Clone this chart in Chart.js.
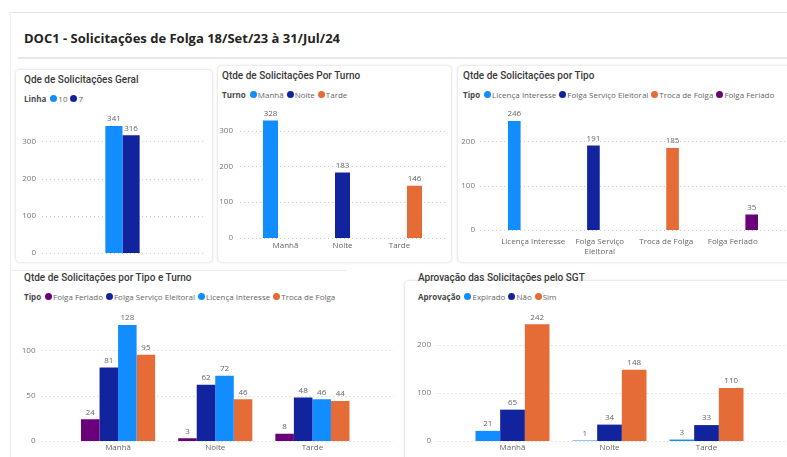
<!DOCTYPE html>
<html>
<head>
<meta charset="utf-8">
<script src="https://cdn.jsdelivr.net/npm/chart.js@4.4.1/dist/chart.umd.min.js"></script>
<style>
  body { margin: 0; width: 787px; height: 457px; background: #fff; position: relative; overflow: hidden; font-family: 'Open Sans', sans-serif; }
  .frame { position: absolute; left: 10px; top: 12px; width: 790px; height: 460px; border-top: 1px solid #e2e2e2; border-left: 1px solid #efefef; }
  .header-line { position: absolute; left: 18px; top: 57px; width: 780px; height: 2px; background: #e8e8e8; }
  .doc-title { position: absolute; left: 24px; top: 29px; font-size: 13px; font-weight: 700; color: #252423; white-space: nowrap; }
  .card { position: absolute; background: #fff; border-radius: 4px; box-shadow: 0 0 3px rgba(0,0,0,0.22); }
  .card-title { position: absolute; font-family: 'Roboto', sans-serif; font-weight: 500; font-size: 10px; color: #3a3a3a; white-space: nowrap; }
  .legend { position: absolute; display: flex; align-items: center; font-size: 8px; color: #666; white-space: nowrap; }
  .legend b { color: #4a4a4a; margin-right: 4px; }
  .legend .dot { width: 7px; height: 7px; border-radius: 50%; display: inline-block; margin-right: 1px; }
  .legend .item { margin-right: 3px; }
  canvas { position: absolute; }
</style>
</head>
<body>
<div class="frame"></div>
<div class="doc-title">DOC1 - Solicitações de Folga 18/Set/23 à 31/Jul/24</div>
<div class="header-line"></div>

<div class="card" style="left:16px;top:70px;width:196px;height:192px"></div>
<div class="card" style="left:218px;top:66px;width:233px;height:196px"></div>
<div class="card" style="left:458px;top:66px;width:340px;height:196px"></div>
<div class="card" style="left:10px;top:270px;width:335px;height:200px;box-shadow:none;border-top:1px solid #ececec;border-left:1px solid #ececec;border-radius:0"></div>
<div class="card" style="left:405px;top:281px;width:400px;height:200px"></div>

<div class="card-title" style="left:24px;top:74px">Qde de Solicitações Geral</div>
<div class="card-title" style="left:222px;top:70px">Qtde de Solicitações Por Turno</div>
<div class="card-title" style="left:463px;top:70px">Qtde de Solicitações por Tipo</div>
<div class="card-title" style="left:24px;top:272px">Qtde de Solicitações por Tipo e Turno</div>
<div class="card-title" style="left:418px;top:272px">Aprovação das Solicitações pelo SGT</div>

<div class="legend" id="legGeral" style="left:24px;top:93px"></div>
<div class="legend" id="legTurno" style="left:222px;top:89px"></div>
<div class="legend" id="legTipo" style="left:463px;top:89px"></div>
<div class="legend" id="legTipoTurno" style="left:24px;top:291px"></div>
<div class="legend" id="legAprov" style="left:418px;top:291px"></div>

<canvas id="chartGeral"></canvas>
<canvas id="chartTurno"></canvas>
<canvas id="chartTipo"></canvas>
<canvas id="chartTipoTurno"></canvas>
<canvas id="chartAprov"></canvas>

<script>
// Power BI default palette
const BLUE = '#118DFF', NAVY = '#12239E', ORANGE = '#E66C37', PURPLE = '#6B007B';

// Total requests per line
const linhaLabels = ['10', '7'];
const linhaValues = [341, 316];
const linhaColors = [BLUE, NAVY];

// Requests per shift
const turnoLabels = ['Manhã', 'Noite', 'Tarde'];
const turnoValues = [328, 183, 146];
const turnoColors = [BLUE, NAVY, ORANGE];

// Requests per type
const tipoLabels = ['Licença Interesse', 'Folga Serviço Eleitoral', 'Troca de Folga', 'Folga Feriado'];
const tipoValues = [246, 191, 185, 35];
const tipoColors = [BLUE, NAVY, ORANGE, PURPLE];

// Requests per type and shift (values follow turnoLabels)
const tipoTurnoSeries = ['Folga Feriado', 'Folga Serviço Eleitoral', 'Licença Interesse', 'Troca de Folga'];
const tipoTurnoColors = [PURPLE, NAVY, BLUE, ORANGE];
const feriadoPorTurno = [24, 3, 8];
const eleitoralPorTurno = [81, 62, 48];
const licencaPorTurno = [128, 72, 46];
const trocaPorTurno = [95, 46, 44];

// Approval status per shift
const aprovSeries = ['Expirado', 'Não', 'Sim'];
const aprovColors = [BLUE, NAVY, ORANGE];
const expiradoPorTurno = [21, 1, 3];
const naoPorTurno = [65, 34, 33];
const simPorTurno = [242, 148, 110];

// dotted horizontal gridlines, a bit wider than the plot area
const dottedGrid = {
  id: 'dottedGrid',
  beforeDatasetsDraw(chart, args, opts) {
    const y = chart.scales.y, a = chart.chartArea, ctx = chart.ctx;
    ctx.save();
    ctx.strokeStyle = '#c9c9c9';
    ctx.lineWidth = 1;
    ctx.setLineDash([1, 3]);
    y.ticks.forEach(t => {
      const py = Math.round(y.getPixelForValue(t.value)) + 0.5;
      ctx.beginPath();
      ctx.moveTo(a.left - (opts.extL || 0), py);
      ctx.lineTo(a.right + (opts.extR || 0), py);
      ctx.stroke();
    });
    ctx.restore();
  }
};

// value above every bar
const valueLabels = {
  id: 'valueLabels',
  afterDatasetsDraw(chart) {
    const ctx = chart.ctx;
    ctx.save();
    ctx.font = '8px "Open Sans"';
    ctx.fillStyle = '#666';
    ctx.textAlign = 'center';
    ctx.textBaseline = 'bottom';
    chart.data.datasets.forEach((ds, i) => {
      chart.getDatasetMeta(i).data.forEach((bar, j) => {
        const v = ds.data[j];
        if (v == null) return;
        ctx.fillText(String(v), bar.x, bar.y - 3);
      });
    });
    ctx.restore();
  }
};

function buildLegend(id, title, labels, colors) {
  const el = document.getElementById(id);
  let html = '<b>' + title + '</b>';
  labels.forEach((l, i) => {
    html += '<span class="dot" style="background:' + colors[i] + '"></span><span class="item">' + l + '</span>';
  });
  el.innerHTML = html;
}

// split long category names over two lines
function wrapLabel(label) {
  if (label.length <= 18) return label;
  const words = label.split(' ');
  const last = words.pop();
  return [words.join(' '), last];
}

// one series per category, so each bar sits in its own slot like the source visual
function oneBarPerCategory(labels, values, colors) {
  return labels.map((l, i) => ({
    label: l,
    data: labels.map((_, j) => (i === j ? values[i] : null)),
    backgroundColor: colors[i]
  }));
}

// box: plot area edges on the page (l, t, r, b), axis sizes and spacing
function makeChart(id, box, labels, datasets, showX) {
  const canvas = document.getElementById(id);
  const left = box.l - box.yw;
  canvas.width = Math.round(box.r + box.padR - left);
  canvas.height = Math.round(box.b + box.xh - box.t);
  canvas.style.left = left + 'px';
  canvas.style.top = box.t + 'px';

  datasets.forEach(ds => {
    ds.categoryPercentage = box.cat;
    ds.barPercentage = 1;
    ds.borderWidth = 0;
  });

  return new Chart(canvas, {
    type: 'bar',
    data: { labels: labels, datasets: datasets },
    options: {
      responsive: false,
      animation: false,
      layout: { padding: { top: 0, left: 0, bottom: 0, right: box.padR } },
      plugins: {
        legend: { display: false },
        tooltip: { enabled: false },
        dottedGrid: { extL: box.extL, extR: box.extR }
      },
      scales: {
        x: {
          grid: { display: false, drawTicks: false },
          border: { display: false },
          ticks: {
            display: showX,
            color: '#666',
            font: { family: 'Open Sans', size: 8 },
            padding: box.xpad,
            maxRotation: 0,
            autoSkip: false,
            callback: function(value) { return wrapLabel(this.getLabelForValue(value)); }
          },
          afterFit: s => { s.height = box.xh; s.paddingLeft = 0; s.paddingRight = 0; }
        },
        y: {
          min: 0,
          max: box.max,
          grid: { display: false, drawTicks: false },
          border: { display: false },
          ticks: {
            stepSize: box.step,
            color: '#777',
            font: { family: 'Open Sans', size: 8 },
            padding: box.ypad
          },
          afterBuildTicks: s => { s.ticks = s.ticks.filter(t => t.value % box.step === 0 && t.value < box.max); },
          afterFit: s => { s.width = box.yw; s.paddingTop = 0; s.paddingBottom = 0; }
        }
      }
    },
    plugins: [dottedGrid, valueLabels]
  });
}

buildLegend('legGeral', 'Linha', linhaLabels, linhaColors);
buildLegend('legTurno', 'Turno', turnoLabels, turnoColors);
buildLegend('legTipo', 'Tipo', tipoLabels, tipoColors);
buildLegend('legTipoTurno', 'Tipo', tipoTurnoSeries, tipoTurnoColors);
buildLegend('legAprov', 'Aprovação', aprovSeries, aprovColors);

makeChart('chartGeral',
  { l: 42, t: 104, r: 203, b: 253, yw: 26, xh: 7, padR: 0, extL: 0, extR: 0, max: 400, step: 100, ypad: 6, xpad: 0, cat: 0.213 },
  ['Total'],
  linhaLabels.map((l, i) => ({ label: l, data: [linhaValues[i]], backgroundColor: linhaColors[i] })),
  false);

makeChart('chartTurno',
  { l: 257, t: 102, r: 428, b: 238, yw: 39, xh: 14, padR: 20, extL: 17, extR: 20, max: 380, step: 100, ypad: 24, xpad: 3, cat: 0.79 },
  turnoLabels,
  oneBarPerCategory(turnoLabels, turnoValues, turnoColors),
  true);

makeChart('chartTipo',
  { l: 500, t: 106, r: 766, b: 230, yw: 44, xh: 30, padR: 21, extL: 20, extR: 21, max: 280, step: 100, ypad: 25, xpad: 7, cat: 0.76 },
  tipoLabels,
  oneBarPerCategory(tipoLabels, tipoValues, tipoColors),
  true);

makeChart('chartTipoTurno',
  { l: 69.5, t: 305, r: 360.5, b: 441, yw: 57.5, xh: 16, padR: 33, extL: 28, extR: 33, max: 150, step: 50, ypad: 34, xpad: 2, cat: 0.763 },
  turnoLabels,
  [feriadoPorTurno, eleitoralPorTurno, licencaPorTurno, trocaPorTurno].map((d, i) => ({
    label: tipoTurnoSeries[i], data: d, backgroundColor: tipoTurnoColors[i]
  })),
  true);

makeChart('chartAprov',
  { l: 463.5, t: 306, r: 754.5, b: 441, yw: 52, xh: 16, padR: 33, extL: 28.5, extR: 33, max: 280, step: 100, ypad: 33, xpad: 2, cat: 0.763 },
  turnoLabels,
  [expiradoPorTurno, naoPorTurno, simPorTurno].map((d, i) => ({
    label: aprovSeries[i], data: d, backgroundColor: aprovColors[i]
  })),
  true);
</script>
</body>
</html>
